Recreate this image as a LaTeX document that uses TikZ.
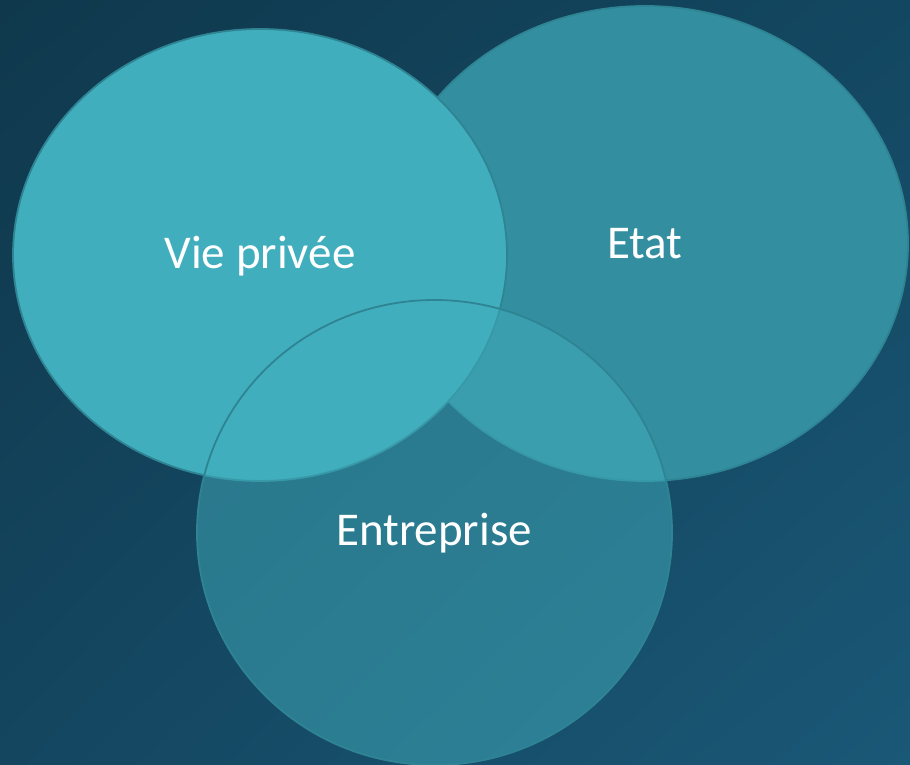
\documentclass[tikz,border=0pt]{standalone}
\usepackage{fontspec}
\usetikzlibrary{shadings}
\setmainfont{Carlito}
\definecolor{bgTL}{HTML}{0F384C}
\definecolor{bgTR}{HTML}{134761}
\definecolor{bgBL}{HTML}{144660}
\definecolor{bgBR}{HTML}{1A5877}
\definecolor{lightteal}{HTML}{41AEBD}
\definecolor{midteal}{HTML}{338FA0}
\definecolor{edgeteal}{HTML}{2E8493}
\tikzset{
  blob/.style={draw=edgeteal, line width=1.8pt},
  lbl/.style={text=white, font=\fontsize{47}{50}\selectfont, inner sep=0pt}
}
\begin{document}
\begin{tikzpicture}[x=1pt,y=-1pt]
\shade[upper left=bgTL, upper right=bgTR, lower left=bgBL, lower right=bgBR] (0,0) rectangle (910,765);
\useasboundingbox (0,0) rectangle (910,765);
\begin{scope}
\clip (0,0) rectangle (910,765);
% Etat
\draw[blob, fill=midteal] (645,243.5) ellipse [x radius=263, y radius=237.5];
% Vie privee
\draw[blob, fill=lightteal] (260,255) ellipse [x radius=247, y radius=226];
% Entreprise
\draw[blob, fill=lightteal, fill opacity=0.5] (434.5,532.5) ellipse [x radius=237.5, y radius=232.5];
\end{scope}
\node[lbl] (vie) at (260,256) {Vie privée};
\node[lbl] (etat) at (645,244) {Etat};
\node[lbl] (ent) at (434,533) {Entreprise};
\end{tikzpicture}
\end{document}
